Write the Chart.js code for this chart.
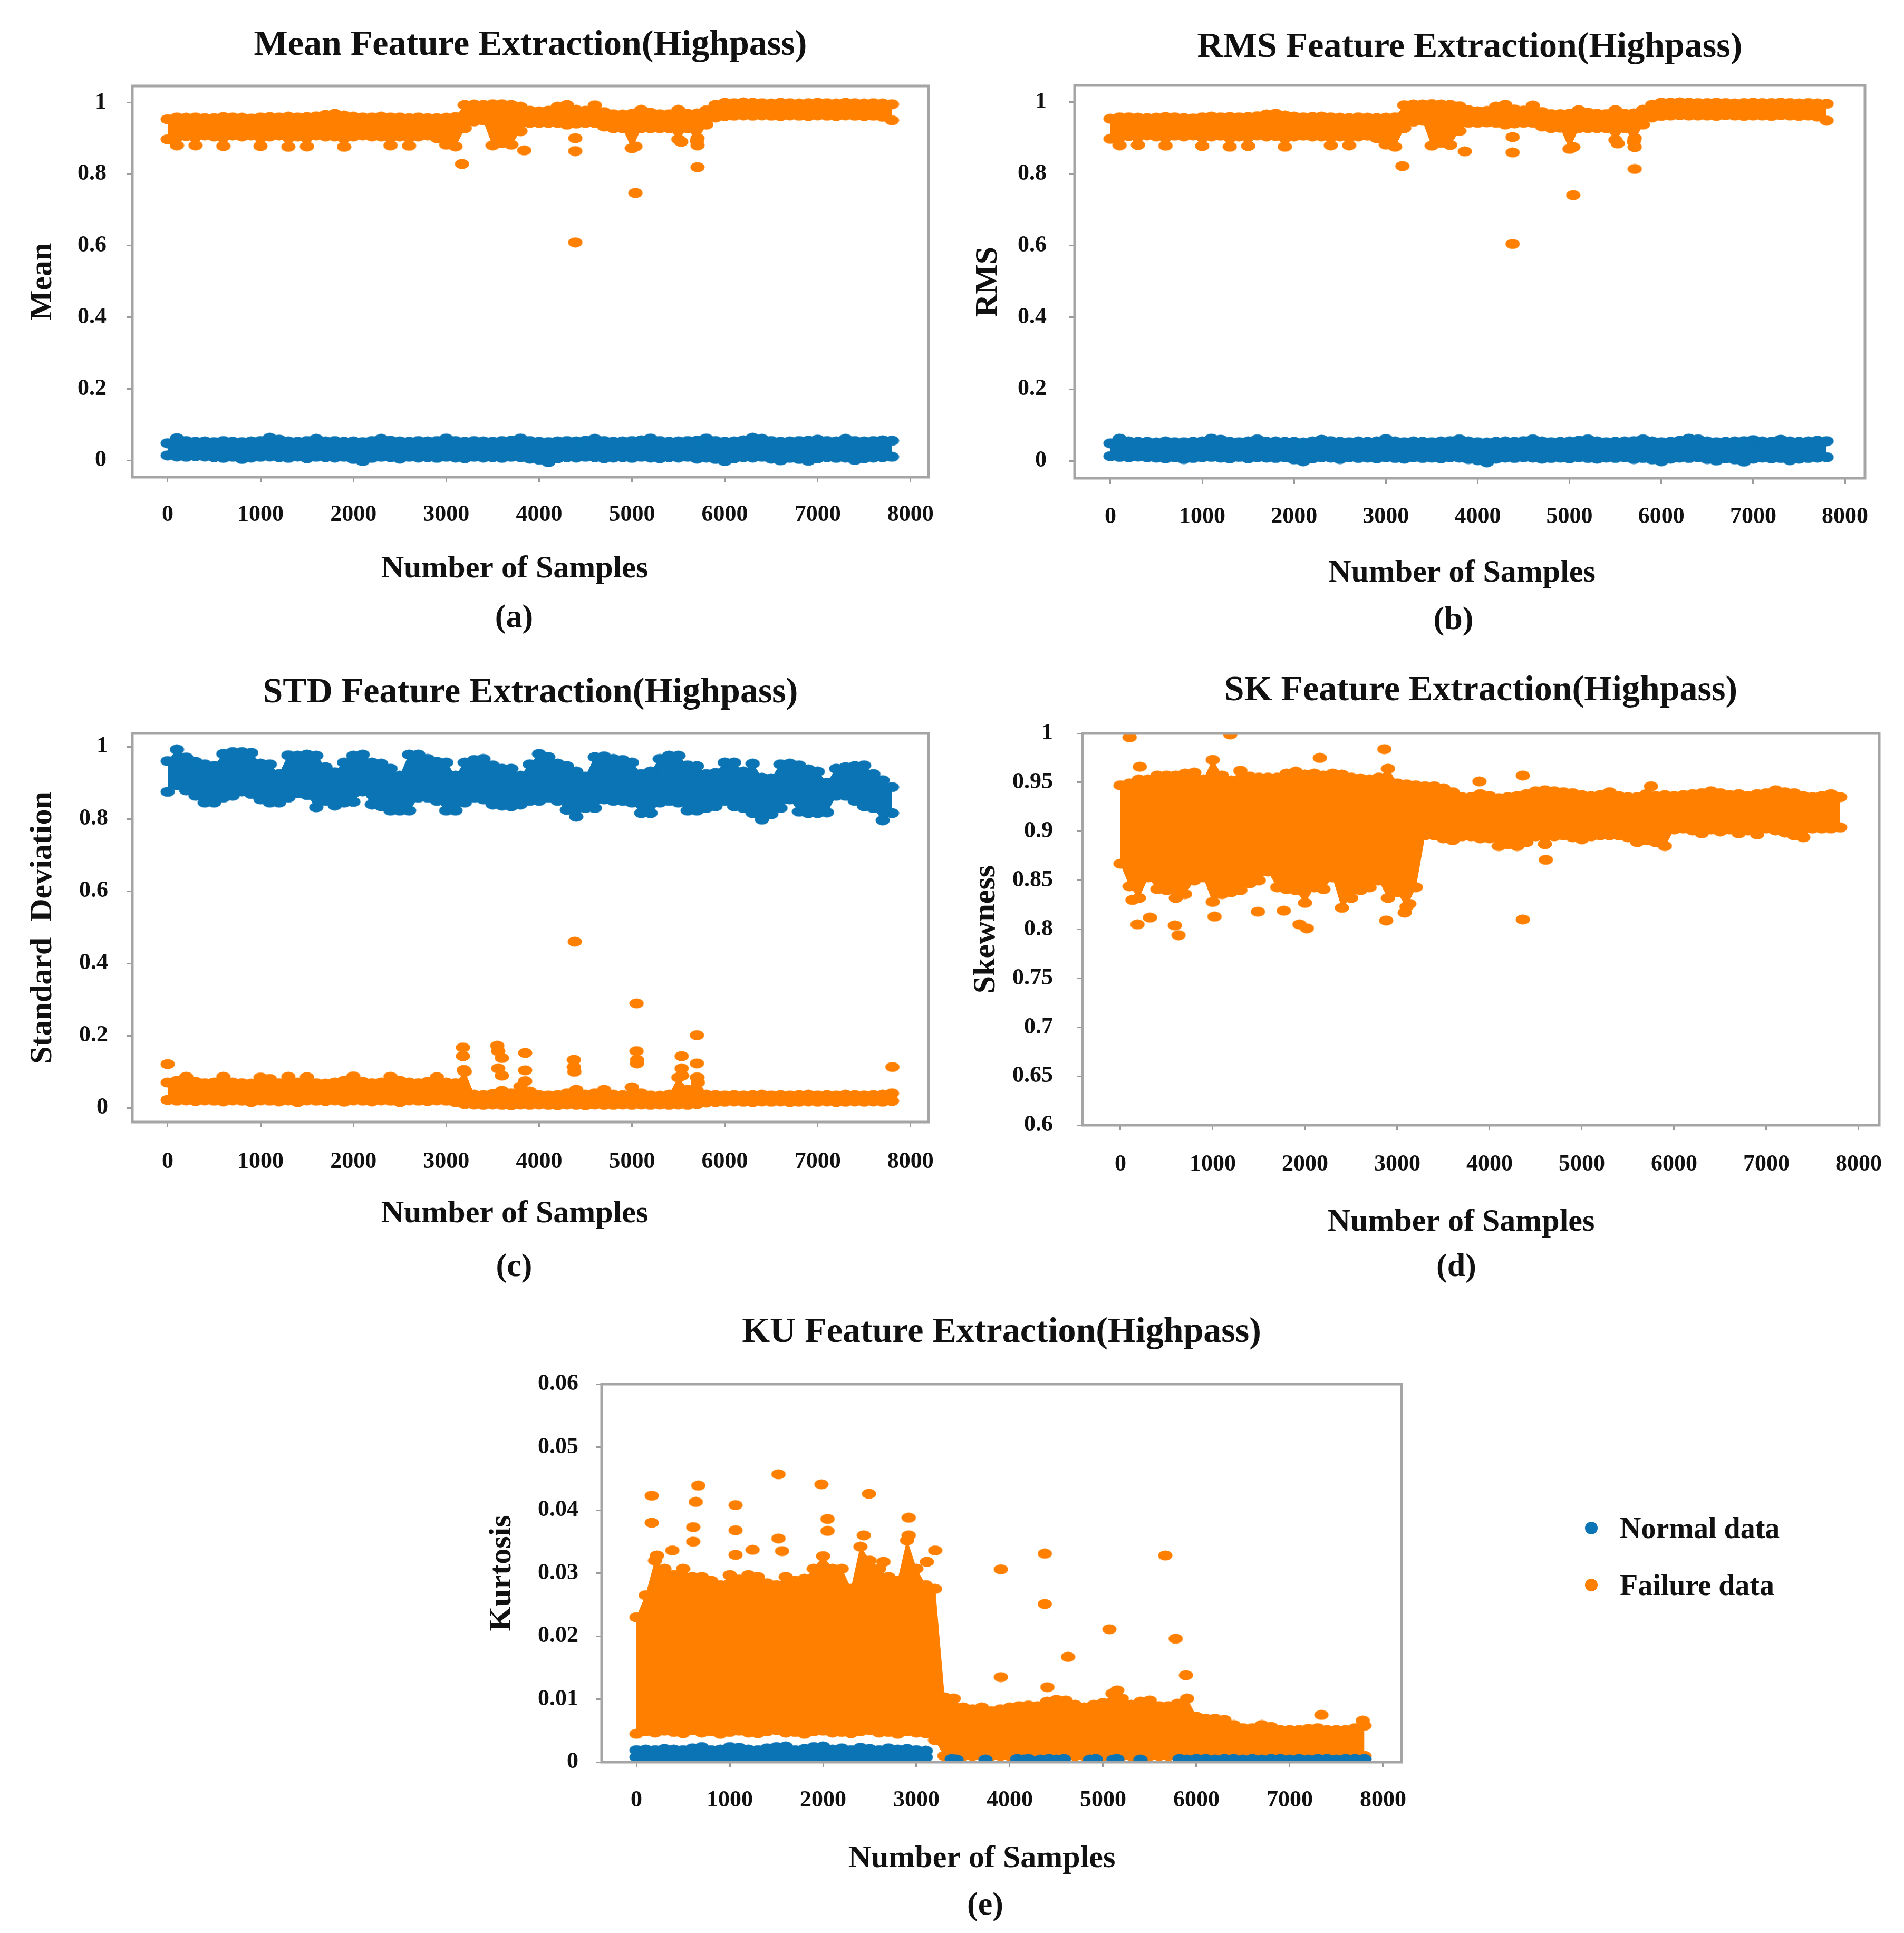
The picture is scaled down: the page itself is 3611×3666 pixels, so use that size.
<!DOCTYPE html>
<html>
<head>
<meta charset="utf-8">
<script src="https://cdn.jsdelivr.net/npm/chart.js@4.4.1/dist/chart.umd.min.js"></script>
<style>
  html, body { margin: 0; padding: 0; background: #ffffff; }
  body { width: 3611px; height: 3666px; overflow: hidden; position: relative; }
  canvas { position: absolute; }
  .lg-row { position: absolute; display: flex; align-items: center; font-family: 'Liberation Serif', 'Times New Roman', serif; font-weight: bold; color: #111; white-space: nowrap; }
  .lg-dot { display: inline-block; border-radius: 50%; }
</style>
</head>
<body>
<canvas id="cMean"></canvas>
<canvas id="cRms"></canvas>
<canvas id="cStd"></canvas>
<canvas id="cSk"></canvas>
<canvas id="cKu"></canvas>
<div id="legend"></div>
<script>
// ---------------- DATA ----------------
const sampleIndex = [0,100,200,300,400,500,600,700,800,900,1000,1100,1200,1300,1400,1500,1600,1700,1800,1900,2000,2100,2200,2300,2400,2500,2600,2700,2800,2900,3000,3100,3200,3300,3400,3500,3600,3700,3800,3900,4000,4100,4200,4300,4400,4500,4600,4700,4800,4900,5000,5100,5200,5300,5400,5500,5600,5700,5800,5900,6000,6100,6200,6300,6400,6500,6600,6700,6800,6900,7000,7100,7200,7300,7400,7500,7600,7700,7800];
const sampleIndexEarly = [0,100,200,300,400,500,600,700,800,900,1000,1100,1200,1300,1400,1500,1600,1700,1800,1900,2000,2100,2200,2300,2400,2500,2600,2700,2800,2900,3000,3100];

const xTickValues = [0,1000,2000,3000,4000,5000,6000,7000,8000];
const xTickLabels = ['0','1000','2000','3000','4000','5000','6000','7000','8000'];
const unitTickValues = [0,0.2,0.4,0.6,0.8,1];
const unitTickLabels = ['0','0.2','0.4','0.6','0.8','1'];
const skTickValues = [0.6,0.65,0.7,0.75,0.8,0.85,0.9,0.95,1];
const skTickLabels = ['0.6','0.65','0.7','0.75','0.8','0.85','0.9','0.95','1'];
const kuTickValues = [0,0.01,0.02,0.03,0.04,0.05,0.06];
const kuTickLabels = ['0','0.01','0.02','0.03','0.04','0.05','0.06'];

const seriesNames = ['Normal data', 'Failure data'];
const seriesColors = ['#0A74B5', '#FF8000'];

// Mean (a)
const meanFailureHigh = [0.953,0.958,0.957,0.958,0.956,0.956,0.959,0.958,0.957,0.955,0.958,0.959,0.958,0.960,0.958,0.959,0.961,0.965,0.968,0.963,0.960,0.958,0.958,0.960,0.958,0.958,0.956,0.958,0.956,0.956,0.957,0.959,0.993,0.994,0.993,0.995,0.995,0.993,0.988,0.977,0.975,0.977,0.988,0.993,0.979,0.977,0.992,0.973,0.967,0.966,0.968,0.979,0.971,0.967,0.967,0.979,0.968,0.969,0.978,0.993,0.999,0.998,1.000,0.999,0.998,0.997,0.999,0.998,0.997,0.998,0.999,0.998,0.997,0.999,0.998,0.997,0.998,0.997,0.995];
const meanFailureLow = [0.897,0.880,0.906,0.880,0.908,0.905,0.878,0.908,0.905,0.908,0.878,0.905,0.908,0.876,0.905,0.877,0.908,0.905,0.905,0.876,0.905,0.908,0.905,0.905,0.880,0.905,0.879,0.905,0.908,0.900,0.882,0.877,0.928,0.947,0.950,0.880,0.887,0.882,0.920,0.943,0.943,0.943,0.943,0.938,0.941,0.943,0.943,0.933,0.928,0.928,0.872,0.928,0.928,0.928,0.928,0.897,0.928,0.892,0.938,0.958,0.962,0.963,0.964,0.963,0.964,0.963,0.962,0.964,0.963,0.962,0.964,0.963,0.962,0.964,0.963,0.962,0.963,0.960,0.950];
const meanFailureOutX = [3170,3840,4390,4390,4390,5038,5038,5530,5706,5706,5706];
const meanFailureOutY = [0.828,0.866,0.900,0.864,0.609,0.877,0.747,0.890,0.900,0.880,0.819];
const meanNormalHigh = [0.048,0.062,0.054,0.052,0.053,0.051,0.054,0.052,0.051,0.053,0.054,0.063,0.058,0.053,0.052,0.054,0.060,0.053,0.054,0.052,0.053,0.051,0.054,0.060,0.055,0.053,0.052,0.054,0.053,0.054,0.061,0.054,0.052,0.054,0.053,0.052,0.054,0.055,0.061,0.054,0.052,0.051,0.053,0.054,0.053,0.055,0.060,0.054,0.052,0.053,0.054,0.056,0.061,0.054,0.052,0.053,0.054,0.055,0.061,0.054,0.052,0.053,0.056,0.063,0.060,0.054,0.052,0.053,0.054,0.055,0.058,0.054,0.053,0.060,0.054,0.053,0.054,0.056,0.055];
const meanNormalLow = [0.014,0.011,0.010,0.012,0.011,0.009,0.007,0.010,0.004,0.008,0.010,0.011,0.009,0.007,0.011,0.006,0.010,0.009,0.008,0.010,0.004,-0.002,0.007,0.010,0.009,0.005,0.010,0.008,0.009,0.007,0.010,0.008,0.006,0.010,0.008,0.009,0.007,0.010,0.009,0.005,0.002,-0.005,0.006,0.009,0.008,0.010,0.009,0.006,0.008,0.009,0.007,0.010,0.008,0.006,0.009,0.008,0.010,0.005,0.008,0.004,-0.002,0.006,0.009,0.008,0.010,0.005,0.000,0.007,0.004,-0.001,0.006,0.009,0.007,0.008,0.001,0.006,0.008,0.009,0.010];

// RMS (b)
const rmsFailureHigh = [0.954,0.958,0.958,0.957,0.956,0.957,0.959,0.958,0.956,0.955,0.958,0.960,0.958,0.959,0.958,0.959,0.961,0.966,0.968,0.963,0.960,0.958,0.959,0.960,0.958,0.957,0.956,0.958,0.957,0.956,0.957,0.958,0.992,0.994,0.994,0.995,0.994,0.993,0.989,0.978,0.975,0.976,0.988,0.993,0.980,0.977,0.991,0.973,0.967,0.967,0.968,0.978,0.971,0.968,0.967,0.978,0.968,0.969,0.979,0.993,0.999,0.999,1.000,0.999,0.998,0.998,0.999,0.998,0.997,0.998,0.999,0.998,0.998,0.999,0.998,0.997,0.998,0.997,0.996];
const rmsFailureLow = [0.898,0.880,0.906,0.881,0.908,0.905,0.879,0.907,0.905,0.908,0.878,0.905,0.907,0.876,0.905,0.878,0.908,0.905,0.906,0.876,0.905,0.907,0.905,0.905,0.880,0.905,0.880,0.905,0.907,0.900,0.882,0.876,0.928,0.946,0.949,0.879,0.887,0.881,0.920,0.943,0.943,0.944,0.943,0.938,0.941,0.943,0.943,0.933,0.928,0.929,0.870,0.928,0.928,0.928,0.928,0.895,0.928,0.890,0.938,0.958,0.962,0.963,0.964,0.963,0.963,0.963,0.962,0.964,0.963,0.962,0.963,0.963,0.962,0.964,0.963,0.962,0.963,0.960,0.949];
const rmsFailureOutX = [3180,3860,4380,4380,4380,5040,5040,5525,5710,5710,5710];
const rmsFailureOutY = [0.822,0.863,0.903,0.860,0.605,0.875,0.741,0.885,0.900,0.875,0.814];
const rmsNormalHigh = [0.049,0.062,0.054,0.053,0.053,0.051,0.054,0.052,0.052,0.053,0.054,0.062,0.059,0.053,0.052,0.054,0.060,0.053,0.054,0.053,0.053,0.051,0.054,0.059,0.055,0.053,0.052,0.054,0.053,0.054,0.061,0.054,0.052,0.054,0.053,0.052,0.054,0.055,0.060,0.054,0.052,0.051,0.053,0.054,0.053,0.055,0.060,0.054,0.052,0.053,0.054,0.056,0.060,0.054,0.052,0.053,0.054,0.055,0.060,0.054,0.052,0.053,0.056,0.062,0.060,0.054,0.052,0.053,0.054,0.055,0.058,0.054,0.053,0.059,0.054,0.053,0.054,0.056,0.055];
const rmsNormalLow = [0.013,0.011,0.010,0.012,0.010,0.009,0.007,0.010,0.005,0.008,0.010,0.011,0.009,0.007,0.011,0.007,0.010,0.009,0.008,0.010,0.004,-0.001,0.007,0.010,0.009,0.005,0.010,0.008,0.009,0.007,0.010,0.008,0.006,0.010,0.008,0.009,0.007,0.010,0.009,0.005,0.002,-0.004,0.006,0.009,0.008,0.010,0.009,0.006,0.008,0.009,0.007,0.010,0.008,0.006,0.009,0.008,0.010,0.005,0.008,0.004,-0.001,0.006,0.009,0.008,0.010,0.005,0.001,0.007,0.004,-0.002,0.006,0.009,0.007,0.008,0.002,0.006,0.008,0.009,0.010];

// STD (c)
const stdNormalHigh = [0.960,0.992,0.970,0.958,0.951,0.946,0.980,0.985,0.985,0.983,0.953,0.951,0.924,0.976,0.975,0.978,0.975,0.943,0.929,0.956,0.975,0.978,0.956,0.953,0.939,0.919,0.978,0.978,0.966,0.958,0.956,0.919,0.956,0.963,0.966,0.948,0.939,0.939,0.919,0.951,0.980,0.971,0.953,0.946,0.931,0.917,0.971,0.973,0.966,0.963,0.956,0.924,0.931,0.966,0.975,0.975,0.948,0.946,0.924,0.927,0.956,0.956,0.931,0.953,0.914,0.912,0.951,0.953,0.948,0.937,0.931,0.900,0.939,0.943,0.946,0.948,0.924,0.907,0.888];
const stdNormalLow = [0.875,0.893,0.879,0.864,0.845,0.845,0.859,0.864,0.876,0.869,0.854,0.845,0.845,0.859,0.871,0.866,0.832,0.850,0.837,0.845,0.847,0.876,0.840,0.835,0.823,0.823,0.823,0.859,0.859,0.850,0.823,0.823,0.845,0.859,0.854,0.840,0.837,0.835,0.840,0.850,0.850,0.859,0.850,0.825,0.806,0.830,0.830,0.854,0.850,0.850,0.845,0.816,0.816,0.845,0.850,0.845,0.823,0.823,0.830,0.835,0.850,0.835,0.830,0.816,0.798,0.813,0.830,0.854,0.820,0.816,0.816,0.818,0.864,0.864,0.850,0.835,0.830,0.796,0.816];
const stdFailureHigh = [0.070,0.075,0.086,0.072,0.068,0.070,0.086,0.070,0.068,0.067,0.084,0.080,0.068,0.086,0.070,0.085,0.068,0.067,0.070,0.075,0.087,0.072,0.068,0.070,0.086,0.075,0.070,0.068,0.072,0.085,0.070,0.068,0.100,0.036,0.035,0.038,0.047,0.040,0.059,0.045,0.035,0.034,0.035,0.040,0.050,0.036,0.040,0.050,0.036,0.035,0.057,0.040,0.034,0.033,0.036,0.084,0.050,0.084,0.036,0.035,0.034,0.035,0.034,0.035,0.036,0.034,0.035,0.034,0.035,0.036,0.034,0.035,0.034,0.036,0.035,0.034,0.035,0.036,0.040];
const stdFailureLow = [0.022,0.020,0.021,0.019,0.021,0.020,0.018,0.021,0.020,0.016,0.021,0.020,0.018,0.021,0.016,0.021,0.020,0.019,0.021,0.017,0.021,0.020,0.018,0.021,0.020,0.016,0.021,0.020,0.019,0.021,0.020,0.016,0.010,0.009,0.008,0.009,0.008,0.007,0.009,0.008,0.009,0.008,0.007,0.009,0.008,0.007,0.009,0.008,0.008,0.009,0.008,0.009,0.008,0.009,0.008,0.009,0.008,0.010,0.015,0.016,0.017,0.018,0.017,0.016,0.018,0.017,0.018,0.016,0.017,0.018,0.017,0.018,0.016,0.017,0.018,0.017,0.018,0.017,0.019];
const stdFailureOutX = [0,3180,3180,3190,3550,3560,3600,3560,3600,3850,3850,3850,4375,4375,4380,4384,5050,5050,5055,5054,5535,5535,5540,5700,5700,5705,5710,7805];
const stdFailureOutY = [0.121,0.167,0.143,0.105,0.172,0.157,0.138,0.109,0.089,0.152,0.104,0.074,0.133,0.113,0.100,0.460,0.289,0.157,0.133,0.123,0.143,0.109,0.089,0.201,0.123,0.084,0.070,0.113];

// SK (d)
const skFailureHigh = [0.947,0.949,0.953,0.953,0.957,0.957,0.957,0.959,0.960,0.953,0.973,0.957,0.952,0.962,0.956,0.955,0.955,0.955,0.959,0.961,0.958,0.959,0.957,0.959,0.958,0.955,0.954,0.953,0.955,0.964,0.949,0.948,0.947,0.946,0.946,0.944,0.940,0.935,0.935,0.938,0.936,0.934,0.935,0.936,0.938,0.941,0.942,0.941,0.940,0.939,0.937,0.936,0.937,0.940,0.936,0.935,0.935,0.938,0.936,0.937,0.936,0.937,0.938,0.939,0.941,0.939,0.937,0.938,0.936,0.938,0.939,0.942,0.940,0.939,0.936,0.935,0.936,0.938,0.935];
const skFailureLow = [0.867,0.844,0.832,0.853,0.841,0.840,0.832,0.836,0.850,0.853,0.828,0.836,0.838,0.840,0.847,0.850,0.859,0.843,0.841,0.840,0.827,0.843,0.841,0.853,0.822,0.832,0.840,0.843,0.850,0.832,0.838,0.823,0.843,0.896,0.896,0.893,0.891,0.895,0.895,0.893,0.893,0.885,0.887,0.885,0.889,0.895,0.887,0.895,0.896,0.894,0.892,0.895,0.896,0.896,0.896,0.894,0.889,0.891,0.889,0.885,0.902,0.903,0.901,0.898,0.902,0.900,0.902,0.898,0.901,0.897,0.903,0.901,0.899,0.896,0.894,0.903,0.903,0.903,0.904];
const skFailureOutX = [100,210,1190,2160,2860,3890,4360,5750,4610,4360,130,185,320,590,630,1020,1490,1770,1940,2020,2880,3080,3130];
const skFailureOutY = [0.996,0.966,0.999,0.975,0.984,0.951,0.957,0.946,0.871,0.810,0.830,0.805,0.812,0.804,0.794,0.813,0.818,0.819,0.805,0.801,0.809,0.817,0.826];

// KU (e)
const kuFailureHigh = [0.0230,0.0265,0.0320,0.0307,0.0297,0.0307,0.0294,0.0294,0.0288,0.0281,0.0297,0.0290,0.0297,0.0294,0.0284,0.0281,0.0294,0.0288,0.0291,0.0307,0.0327,0.0307,0.0307,0.0275,0.0342,0.0320,0.0307,0.0294,0.0288,0.0352,0.0307,0.0281,0.0275,0.0103,0.0101,0.0087,0.0084,0.0087,0.0081,0.0084,0.0087,0.0089,0.0090,0.0089,0.0096,0.0099,0.0098,0.0091,0.0087,0.0091,0.0094,0.0109,0.0101,0.0091,0.0096,0.0098,0.0089,0.0089,0.0093,0.0101,0.0072,0.0069,0.0069,0.0067,0.0059,0.0054,0.0054,0.0059,0.0056,0.0051,0.0051,0.0051,0.0053,0.0054,0.0051,0.0051,0.0051,0.0054,0.0058];
const kuFailureLow = [0.0045,0.0049,0.0047,0.0050,0.0048,0.0046,0.0051,0.0047,0.0049,0.0045,0.0048,0.0050,0.0047,0.0046,0.0049,0.0051,0.0047,0.0048,0.0045,0.0049,0.0050,0.0047,0.0048,0.0046,0.0049,0.0051,0.0047,0.0048,0.0045,0.0049,0.0047,0.0046,0.0035,0.0010,0.0010,0.0010,0.0010,0.0010,0.0010,0.0010,0.0010,0.0010,0.0010,0.0010,0.0010,0.0010,0.0010,0.0010,0.0010,0.0010,0.0010,0.0010,0.0010,0.0010,0.0010,0.0010,0.0010,0.0010,0.0010,0.0010,0.0010,0.0010,0.0010,0.0010,0.0010,0.0010,0.0010,0.0010,0.0010,0.0010,0.0010,0.0010,0.0010,0.0010,0.0010,0.0010,0.0010,0.0010,0.0010];
const kuFailureOutX = [164,164,220,663,636,608,608,414,385,1062,1062,1062,1245,1522,1522,1561,1982,2048,2048,2436,2492,2647,2918,2918,3201,3112,3905,3905,4376,4376,4404,4625,5068,5151,5667,5778,5888,7340,7783];
const kuFailureOutY = [0.0423,0.0380,0.0328,0.0439,0.0413,0.0373,0.0350,0.0270,0.0336,0.0408,0.0368,0.0329,0.0337,0.0457,0.0355,0.0335,0.0441,0.0386,0.0367,0.0360,0.0426,0.0318,0.0388,0.0360,0.0336,0.0318,0.0306,0.0135,0.0331,0.0251,0.0119,0.0167,0.0211,0.0114,0.0328,0.0196,0.0138,0.0075,0.0066];
const kuNormalHigh = [0.0019,0.0020,0.0019,0.0021,0.0020,0.0019,0.0022,0.0024,0.0019,0.0020,0.0024,0.0023,0.0020,0.0019,0.0022,0.0024,0.0025,0.0019,0.0021,0.0024,0.0025,0.0020,0.0022,0.0019,0.0023,0.0021,0.0019,0.0022,0.0020,0.0021,0.0019,0.0018];
const kuNormalLow = [0.0008,0.0008,0.0008,0.0008,0.0008,0.0008,0.0008,0.0008,0.0008,0.0008,0.0008,0.0008,0.0008,0.0008,0.0008,0.0008,0.0008,0.0008,0.0008,0.0008,0.0008,0.0008,0.0008,0.0008,0.0008,0.0008,0.0008,0.0008,0.0008,0.0008,0.0008,0.0008];
const kuNormalLateX = [3380,3430,3740,4080,4150,4200,4330,4420,4500,4580,4860,4920,5110,5150,5400,5820,5900,6000,6100,6200,6300,6400,6500,6600,6700,6800,6900,7000,7100,7200,7300,7400,7500,7600,7700,7800];
const kuNormalLateY = [0.0005,0.0004,0.0004,0.0005,0.0004,0.0005,0.0004,0.0005,0.0004,0.0005,0.0004,0.0005,0.0004,0.0005,0.0004,0.0005,0.0004,0.0005,0.0005,0.0004,0.0005,0.0005,0.0004,0.0005,0.0004,0.0005,0.0005,0.0004,0.0005,0.0004,0.0005,0.0005,0.0004,0.0005,0.0005,0.0005];

// ---------------- STYLE ----------------
const FONT = "'Liberation Serif', 'Times New Roman', serif";
const TEXT = '#111111';
const FRAME = '#a5a5a5';
const TICKC = '#9a9a9a';
const TITLE_F = 68, AXIS_F = 60, CAP_F = 62, TICK_F = 44, TICK_LEN = 10;
Chart.defaults.font.family = FONT;
Chart.defaults.color = TEXT;

function ellipseDot(color, w, h) {
  const c = document.createElement('canvas');
  c.width = w; c.height = h;
  const g = c.getContext('2d');
  g.fillStyle = color;
  g.beginPath();
  g.ellipse(w / 2, h / 2, w / 2 - 0.5, h / 2 - 0.5, 0, 0, Math.PI * 2);
  g.fill();
  return c;
}
const dotBlue = ellipseDot(seriesColors[0], 28, 20);
const dotOrange = ellipseDot(seriesColors[1], 28, 20);

function pairs(xs, ys) { return ys.map((y, i) => ({ x: xs[i], y: y })); }

function bandSets(name, color, dot, xs, hi, lo) {
  const common = { showLine: true, borderColor: color, backgroundColor: color, borderWidth: 1,
    pointStyle: dot, pointRadius: 10, pointHoverRadius: 10, tension: 0 };
  return [
    Object.assign({ label: name, data: pairs(xs, hi), fill: '+1' }, common),
    Object.assign({ label: name, data: pairs(xs, lo), fill: false }, common)
  ];
}
function pointSet(name, color, dot, xs, ys) {
  return { label: name, data: pairs(xs, ys), showLine: false, fill: false, borderColor: color,
    backgroundColor: color, pointStyle: dot, pointRadius: 10, pointHoverRadius: 10 };
}

const framePlugin = {
  id: 'frame',
  afterDatasetsDraw(chart) {
    const a = chart.chartArea, ctx = chart.ctx;
    ctx.save();
    ctx.strokeStyle = FRAME;
    ctx.lineWidth = 5;
    ctx.strokeRect(a.left, a.top, a.right - a.left, a.bottom - a.top);
    ctx.restore();
  }
};

function makeChart(id, g, spec) {
  const canvas = document.getElementById(id);
  canvas.width = g.w; canvas.height = g.h;
  canvas.style.left = g.left + 'px'; canvas.style.top = g.top + 'px';
  const lh = f => f * 1.2;
  const titlePadTop = g.titleY - g.top - lh(TITLE_F) / 2;
  const titlePadBottom = (g.areaTop - g.top) - titlePadTop - lh(TITLE_F);
  const capPadBottom = g.top + g.h - g.captionY - lh(CAP_F) / 2;
  const capTop = g.top + g.h - lh(CAP_F) - capPadBottom;
  const xHeight = capTop - g.areaBottom;
  const xTickPad = g.xLabelY - g.areaBottom - TICK_LEN - lh(TICK_F) / 2;
  const xTitlePadBottom = capTop - g.xTitleY - lh(AXIS_F) / 2;
  const yWidth = g.areaLeft - g.left;
  const yTickPad = g.areaLeft - TICK_LEN - g.yLabelRight;
  const yTitlePadTop = g.yTitleX - g.left - lh(AXIS_F) / 2;
  const gridOpts = { display: true, drawOnChartArea: false, drawTicks: true, tickLength: TICK_LEN, color: TICKC, lineWidth: 3 };

  return new Chart(canvas, {
    type: 'line',
    data: { datasets: spec.datasets },
    options: {
      responsive: false,
      animation: false,
      devicePixelRatio: 1,
      events: [],
      layout: { padding: { left: 0, top: 0, bottom: 0, right: g.left + g.w - g.areaRight } },
      plugins: {
        legend: { display: false },
        tooltip: { enabled: false },
        title: { display: true, text: spec.title, fullSize: false, color: TEXT,
          font: { size: TITLE_F, weight: 'bold' }, padding: { top: titlePadTop, bottom: titlePadBottom } },
        subtitle: { display: true, text: spec.caption, position: 'bottom', fullSize: false, color: TEXT,
          font: { size: CAP_F, weight: 'bold' }, padding: { top: 0, bottom: capPadBottom } }
      },
      scales: {
        x: {
          type: 'linear', position: 'bottom', min: spec.xMin, max: spec.xMax,
          afterBuildTicks: s => { s.ticks = xTickValues.map(v => ({ value: v })); },
          afterFit: s => { s.height = xHeight; },
          grid: gridOpts,
          border: { display: false },
          ticks: { autoSkip: false, maxRotation: 0, minRotation: 0, padding: xTickPad, color: TEXT,
            font: { size: TICK_F, weight: 'bold' }, callback: (v, i) => xTickLabels[i] },
          title: { display: true, text: spec.xTitle, color: TEXT,
            font: { size: AXIS_F, weight: 'bold' }, padding: { top: 0, bottom: xTitlePadBottom } }
        },
        y: {
          type: 'linear', position: 'left', min: spec.yMin, max: spec.yMax,
          afterBuildTicks: s => { s.ticks = spec.yTicks.map(v => ({ value: v })); },
          afterFit: s => { s.width = yWidth; },
          grid: gridOpts,
          border: { display: false },
          ticks: { autoSkip: false, padding: yTickPad, color: TEXT,
            font: { size: TICK_F, weight: 'bold' }, callback: (v, i) => spec.yLabels[i] },
          title: { display: true, text: spec.yTitle, color: TEXT,
            font: { size: AXIS_F, weight: 'bold' }, padding: { top: yTitlePadTop, bottom: 0 } }
        }
      }
    },
    plugins: [framePlugin]
  });
}

const [NORMAL, FAILURE] = seriesNames;
const [BLUE, ORANGE] = seriesColors;
const X_TITLE = 'Number of Samples';

makeChart('cMean',
  { left: 0, top: 0, w: 1950, h: 1230, areaLeft: 251, areaRight: 1761, areaTop: 163, areaBottom: 905,
    titleY: 86, captionY: 1173, xLabelY: 977, xTitleY: 1079, yLabelRight: 202, yTitleX: 81 },
  { title: 'Mean Feature Extraction(Highpass)', caption: '(a)    ', yTitle: 'Mean', xTitle: X_TITLE + '    ',
    xMin: -380, xMax: 8194, yMin: -0.047, yMax: 1.046, yTicks: unitTickValues, yLabels: unitTickLabels,
    datasets: [
      ...bandSets(FAILURE, ORANGE, dotOrange, sampleIndex, meanFailureHigh, meanFailureLow),
      pointSet(FAILURE, ORANGE, dotOrange, meanFailureOutX, meanFailureOutY),
      ...bandSets(NORMAL, BLUE, dotBlue, sampleIndex, meanNormalHigh, meanNormalLow)
    ] });

makeChart('cRms',
  { left: 1800, top: 0, w: 1811, h: 1230, areaLeft: 2038, areaRight: 3537, areaTop: 162, areaBottom: 907,
    titleY: 90, captionY: 1177, xLabelY: 981, xTitleY: 1087, yLabelRight: 1985, yTitleX: 1874 },
  { title: 'RMS Feature Extraction(Highpass)', caption: '(b)    ', yTitle: 'RMS', xTitle: X_TITLE + '  ',
    xMin: -390, xMax: 8218, yMin: -0.0485, yMax: 1.047, yTicks: unitTickValues, yLabels: unitTickLabels,
    datasets: [
      ...bandSets(FAILURE, ORANGE, dotOrange, sampleIndex, rmsFailureHigh, rmsFailureLow),
      pointSet(FAILURE, ORANGE, dotOrange, rmsFailureOutX, rmsFailureOutY),
      ...bandSets(NORMAL, BLUE, dotBlue, sampleIndex, rmsNormalHigh, rmsNormalLow)
    ] });

makeChart('cStd',
  { left: 0, top: 1230, w: 1950, h: 1220, areaLeft: 251, areaRight: 1761, areaTop: 1391, areaBottom: 2128,
    titleY: 1314, captionY: 2404, xLabelY: 2204, xTitleY: 2302, yLabelRight: 205, yTitleX: 81 },
  { title: 'STD Feature Extraction(Highpass)', caption: '(c)    ', yTitle: 'Standard  Deviation', xTitle: X_TITLE + '    ',
    xMin: -380, xMax: 8194, yMin: -0.0394, yMax: 1.0365, yTicks: unitTickValues, yLabels: unitTickLabels,
    datasets: [
      ...bandSets(FAILURE, ORANGE, dotOrange, sampleIndex, stdFailureHigh, stdFailureLow),
      pointSet(FAILURE, ORANGE, dotOrange, stdFailureOutX, stdFailureOutY),
      ...bandSets(NORMAL, BLUE, dotBlue, sampleIndex, stdNormalHigh, stdNormalLow)
    ] });

makeChart('cSk',
  { left: 1808, top: 1230, w: 1803, h: 1220, areaLeft: 2053, areaRight: 3564, areaTop: 1391, areaBottom: 2134,
    titleY: 1310, captionY: 2404, xLabelY: 2209, xTitleY: 2318, yLabelRight: 1997, yTitleX: 1870 },
  { title: 'SK Feature Extraction(Highpass)', caption: '(d)      ', yTitle: 'Skewness', xTitle: X_TITLE + '     ',
    xMin: -411, xMax: 8223, yMin: 0.6, yMax: 1, yTicks: skTickValues, yLabels: skTickLabels,
    datasets: [
      ...bandSets(FAILURE, ORANGE, dotOrange, sampleIndex, skFailureHigh, skFailureLow),
      pointSet(FAILURE, ORANGE, dotOrange, skFailureOutX, skFailureOutY)
    ] });

makeChart('cKu',
  { left: 880, top: 2450, w: 1980, h: 1216, areaLeft: 1141, areaRight: 2658, areaTop: 2625, areaBottom: 3342,
    titleY: 2527, captionY: 3615, xLabelY: 3415, xTitleY: 3525, yLabelRight: 1097, yTitleX: 952 },
  { title: 'KU Feature Extraction(Highpass)', caption: '(e)    ', yTitle: 'Kurtosis', xTitle: X_TITLE + '     ',
    xMin: -373, xMax: 8198, yMin: 0, yMax: 0.06, yTicks: kuTickValues, yLabels: kuTickLabels,
    datasets: [
      pointSet(NORMAL, BLUE, dotBlue, kuNormalLateX, kuNormalLateY),
      ...bandSets(FAILURE, ORANGE, dotOrange, sampleIndex, kuFailureHigh, kuFailureLow),
      pointSet(FAILURE, ORANGE, dotOrange, kuFailureOutX, kuFailureOutY),
      ...bandSets(NORMAL, BLUE, dotBlue, sampleIndexEarly, kuNormalHigh, kuNormalLow)
    ] });

// Legend (built from the series names/colours)
const legendPlace = { dotCenterX: 3018, textLeft: 3072, rowCenters: [2898, 3006], dot: 24, font: 56, rowH: 80 };
const legend = document.getElementById('legend');
seriesNames.forEach((name, i) => {
  const row = document.createElement('div');
  row.className = 'lg-row';
  row.style.left = (legendPlace.dotCenterX - legendPlace.dot / 2) + 'px';
  row.style.top = (legendPlace.rowCenters[i] - legendPlace.rowH / 2) + 'px';
  row.style.height = legendPlace.rowH + 'px';
  row.style.fontSize = legendPlace.font + 'px';
  const dot = document.createElement('span');
  dot.className = 'lg-dot';
  dot.style.width = legendPlace.dot + 'px';
  dot.style.height = legendPlace.dot + 'px';
  dot.style.background = seriesColors[i];
  dot.style.marginRight = (legendPlace.textLeft - legendPlace.dotCenterX - legendPlace.dot / 2) + 'px';
  const txt = document.createElement('span');
  txt.textContent = name;
  row.appendChild(dot); row.appendChild(txt);
  legend.appendChild(row);
});
</script>
</body>
</html>
